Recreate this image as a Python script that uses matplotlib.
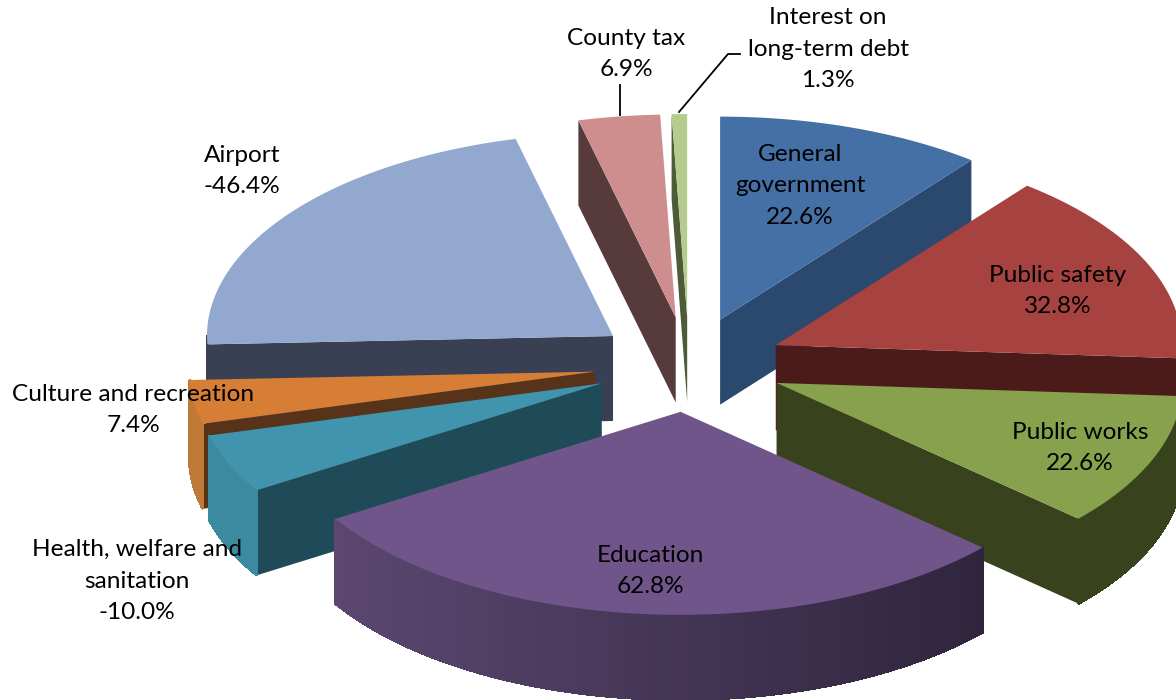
import numpy as np
import matplotlib
matplotlib.use('Agg')
import matplotlib.pyplot as plt
from matplotlib.colors import to_rgb

# Dados (o sinal so aparece no rotulo)
names = ['General\ngovernment', 'Public safety', 'Public works', 'Education',
         'Health, welfare and\nsanitation', 'Culture and recreation', 'Airport',
         'County tax', 'Interest on\nlong-term debt']
values = [22.6, 32.8, 22.6, 62.8, -10.0, 7.4, -46.4, 6.9, 1.3]

top_colors = ['#4570A6', '#A64240', '#87A14D', '#70558A', '#4094AE', '#D67D36', '#93A8CF', '#CE8E8E', '#B6CC8F']
cut_colors = ['#2B486E', '#4A1B19', '#38431D', '#3A2C4C', '#1F4A58', '#57331A', '#3A4054', '#573A3B', '#4E5B38']
rim_left = ['#2B486E', '#4A1B19', '#38431D', '#5F4A75', '#3C8AA0', '#C07A38', '#3A4054', '#573A3B', '#4E5B38']
rim_right = ['#2B486E', '#4A1B19', '#38431D', '#282035', '#3C8AA0', '#B87030', '#3A4054', '#573A3B', '#4E5B38']

label_xy = [(800, 186), (1058, 291), (1080, 448), (650, 571), (137, 581), (133, 410), (242, 171), (626, 54), (828, 49)]

# Geometria da pizza explodida, em pixels da figura
cx, cy = 689, 364.5
radius = 406
squash = 0.5
depth = 85
explode = 95

fig = plt.figure(figsize=(11.76, 7), dpi=100)
ax = fig.add_axes([0, 0, 1, 1])
ax.set_xlim(0, 1176)
ax.set_ylim(700, 0)
ax.axis('off')
plt.rcParams['font.family'] = ['Lato', 'DejaVu Sans']

sizes = np.abs(values)
edges = np.concatenate([[0], np.cumsum(sizes)]) / sizes.sum() * 360


def rim_points(x0, y0, a, b, n=2):
    t = np.radians(np.linspace(a, b, n))
    return x0 + radius * np.sin(t), y0 - radius * squash * np.cos(t)


def draw_wedge(i):
    a, b = edges[i], edges[i + 1]
    mid = np.radians((a + b) / 2)
    x0 = cx + explode * np.sin(mid)
    y0 = cy - explode * squash * np.cos(mid)

    # faces de corte voltadas para o observador
    for ang, visible in ((a, np.sin(np.radians(a)) < 0), (b, np.sin(np.radians(b)) > 0)):
        if visible:
            rx, ry = rim_points(x0, y0, ang, ang)
            ax.fill([x0, rx[0], rx[0], x0], [y0, ry[0], ry[0] + depth, y0 + depth],
                    facecolor=cut_colors[i], edgecolor='none')

    # parede externa em tiras, para o degrade
    lo, hi = max(a, 90), min(b, 270)
    if hi > lo:
        steps = np.linspace(lo, hi, int((hi - lo) * 2) + 2)
        c0, c1 = np.array(to_rgb(rim_left[i])), np.array(to_rgb(rim_right[i]))
        for s0, s1 in zip(steps[:-1], steps[1:]):
            rx, ry = rim_points(x0, y0, s0, s1)
            f = (rx.mean() - (x0 - radius)) / (2 * radius)
            ax.fill([rx[0], rx[1], rx[1], rx[0]], [ry[0], ry[1], ry[1] + depth, ry[0] + depth],
                    color=c0 + (c1 - c0) * f, lw=1.0, antialiased=False)

    # tampa
    rx, ry = rim_points(x0, y0, a, b, max(int(b - a) * 2, 4))
    ax.fill(np.r_[x0, rx], np.r_[y0, ry], facecolor=top_colors[i], edgecolor='none')


# de tras para frente
mids = (edges[:-1] + edges[1:]) / 2
for i in np.argsort(-np.cos(np.radians(mids))):
    draw_wedge(i)

# linhas de chamada
ax.plot([620, 620], [85, 115], color='black', lw=1.3)
ax.plot([740, 728, 679], [54, 54, 112], color='black', lw=1.3)

for name, val, (x, y) in zip(names, values, label_xy):
    ax.text(x, y, f'{name}\n{val:.1f}%', ha='center', va='center', fontsize=17.6,
            color='black', linespacing=1.6)

fig.savefig('out.png', dpi=100)
print('ok')
